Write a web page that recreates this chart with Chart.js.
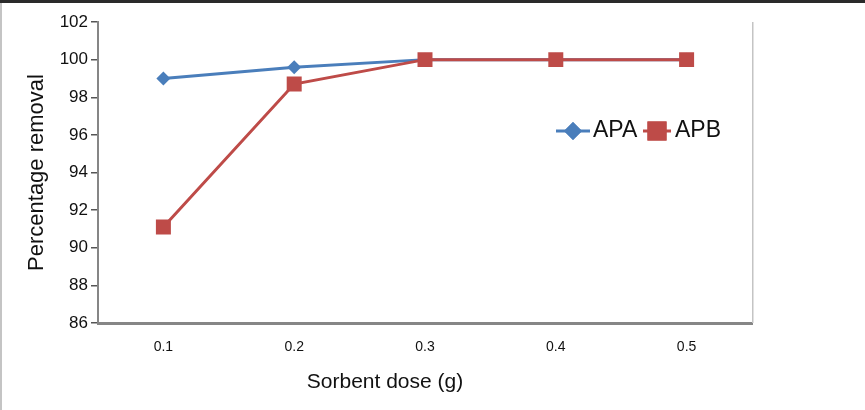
<!DOCTYPE html>
<html>
<head>
<meta charset="utf-8">
<script src="https://cdn.jsdelivr.net/npm/chart.js@4.4.1/dist/chart.umd.min.js"></script>
<style>
html,body{margin:0;padding:0;background:#fff;}
#wrap{width:865px;height:410px;position:relative;}
canvas{display:block;}
</style>
</head>
<body>
<div id="wrap"><canvas id="c" width="865" height="410"></canvas></div>
<script>
const categories = ['0.1', '0.2', '0.3', '0.4', '0.5'];
const apaValues = [99.0, 99.6, 100, 100, 100];
const apbValues = [91.1, 98.7, 100, 100, 100];
const yTickMin = 86, yTickMax = 102, yTickStep = 2;
const xTitle = 'Sorbent dose (g)';
const yTitle = 'Percentage removal';

const BLUE = '#4a7ebb';
const RED = '#be4b48';
const AXIS = '#868686';
const FONT = '"Liberation Sans", Arial, sans-serif';

const framePlugin = {
  id: 'frame',
  afterDraw(chart) {
    const ctx = chart.ctx;
    const ca = chart.chartArea;
    ctx.save();
    // outer frame: dark top line, light left line
    ctx.fillStyle = '#2a2a2a';
    ctx.fillRect(0, 0, 865, 3);
    ctx.fillStyle = '#c4c4c4';
    ctx.fillRect(0, 3, 2, 407);
    // light right edge of plot
    ctx.fillStyle = '#c4c4c4';
    ctx.fillRect(ca.right, ca.top, 1.5, ca.bottom - ca.top);
    // x title
    ctx.fillStyle = '#111';
    ctx.font = '21px ' + FONT;
    ctx.textAlign = 'center';
    ctx.textBaseline = 'middle';
    ctx.fillText(xTitle, 385, 382);
    // legend
    const items = [
      {ds: chart.data.datasets[0], x0: 556, x1: 590, tx: 593, r: 9},
      {ds: chart.data.datasets[1], x0: 643, x1: 671, tx: 675, r: 13.5}
    ];
    const ly = 131;
    ctx.font = '23px ' + FONT;
    ctx.textAlign = 'left';
    items.forEach(it => {
      ctx.strokeStyle = it.ds.borderColor;
      ctx.lineWidth = 3;
      ctx.beginPath();
      ctx.moveTo(it.x0, ly);
      ctx.lineTo(it.x1, ly);
      ctx.stroke();
      const cx = (it.x0 + it.x1) / 2;
      ctx.fillStyle = it.ds.pointBackgroundColor;
      Chart.helpers.drawPoint(ctx, {pointStyle: it.ds.pointStyle, radius: it.r, borderWidth: 0, rotation: 0}, cx, ly);
      ctx.fill();
      ctx.fillStyle = '#111';
      ctx.fillText(it.ds.label, it.tx, ly);
    });
    ctx.restore();
  }
};

new Chart(document.getElementById('c'), {
  type: 'line',
  data: {
    labels: categories,
    datasets: [
      {
        label: 'APA',
        data: apaValues,
        borderColor: BLUE,
        backgroundColor: BLUE,
        pointBackgroundColor: BLUE,
        pointBorderColor: BLUE,
        pointStyle: 'rectRot',
        pointRadius: 7,
        pointBorderWidth: 0,
        borderWidth: 3,
        tension: 0,
        order: 1
      },
      {
        label: 'APB',
        data: apbValues,
        borderColor: RED,
        backgroundColor: RED,
        pointBackgroundColor: RED,
        pointBorderColor: RED,
        pointStyle: 'rect',
        pointRadius: 10.6,
        pointBorderWidth: 0,
        borderWidth: 3,
        tension: 0,
        order: 0
      }
    ]
  },
  options: {
    responsive: false,
    animation: false,
    devicePixelRatio: 1,
    layout: {padding: {left: 0, top: 22, right: 113, bottom: 0}},
    plugins: {
      legend: {display: false},
      tooltip: {enabled: false}
    },
    scales: {
      x: {
        type: 'category',
        offset: true,
        afterFit(scale) { scale.height = 87; },
        grid: {display: false, drawTicks: false},
        border: {display: true, color: AXIS, width: 3},
        ticks: {color: '#111', font: {family: FONT, size: 14}, padding: 16, maxRotation: 0}
      },
      y: {
        min: yTickMin,
        max: yTickMax,
        afterFit(scale) { scale.width = 98; },
        grid: {display: true, drawOnChartArea: false, drawTicks: true, tickLength: 7, color: '#555', lineWidth: 1.5},
        border: {display: true, color: AXIS, width: 2},
        ticks: {stepSize: yTickStep, color: '#111', font: {family: FONT, size: 17}, padding: 3},
        title: {display: true, text: yTitle, color: '#111', font: {family: FONT, size: 22}, padding: {top: 24, bottom: 0}}
      }
    }
  },
  plugins: [framePlugin]
});
</script>
</body>
</html>
